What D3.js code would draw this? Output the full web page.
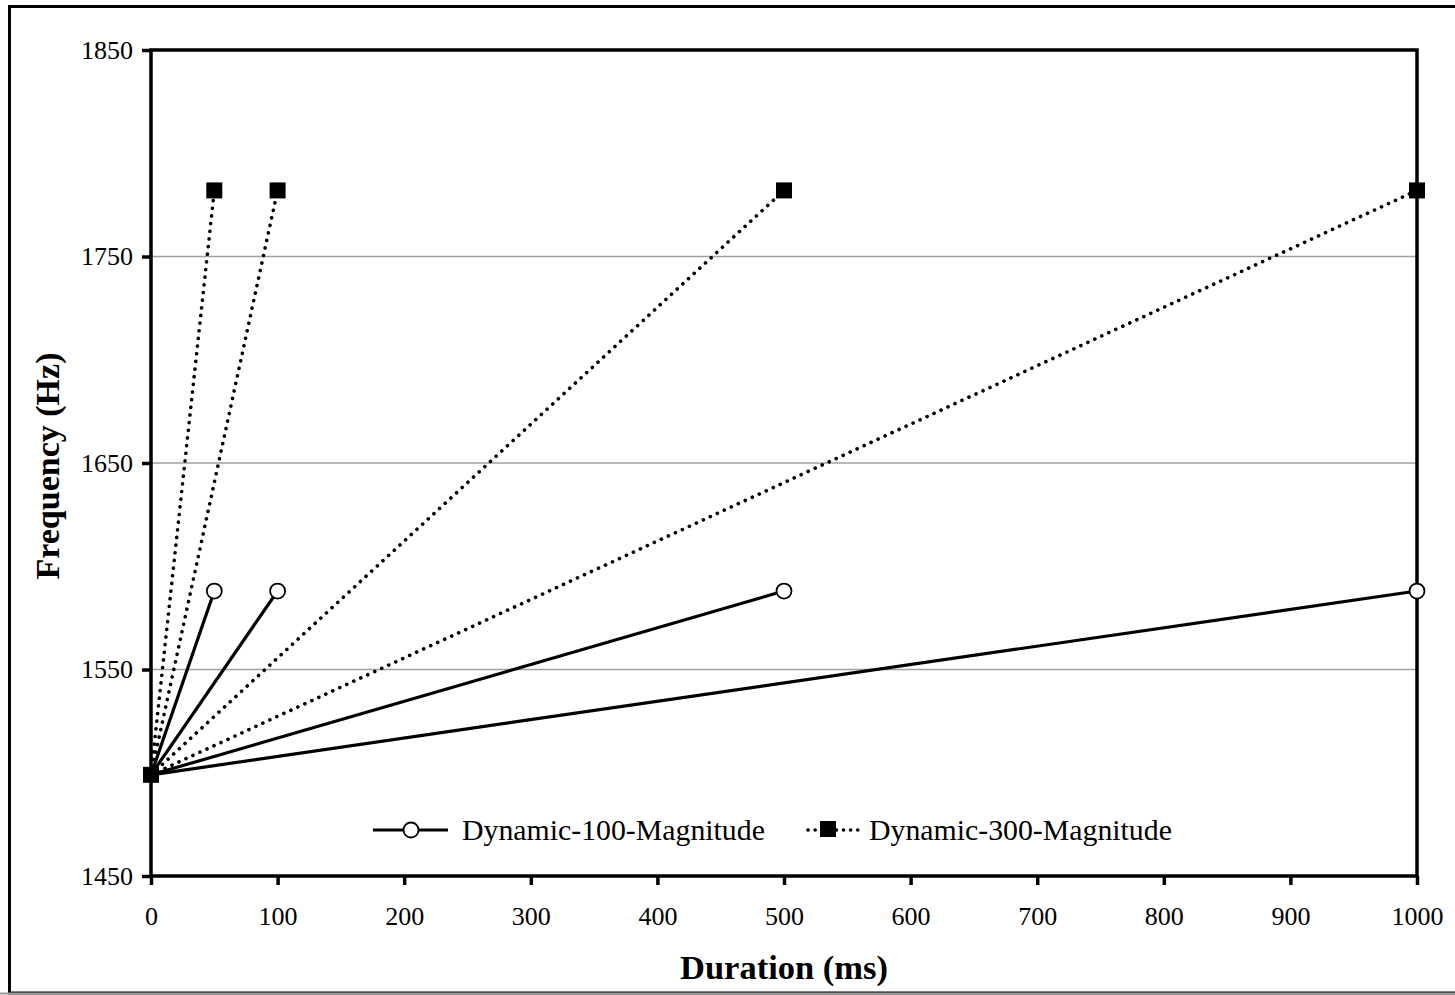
<!DOCTYPE html>
<html><head><meta charset="utf-8">
<script src="https://cdn.jsdelivr.net/npm/d3@7"></script>
<style>body{margin:0;background:#fff}svg{display:block}text{font-family:"Liberation Serif","Times New Roman",serif}</style>
</head><body>
<svg id="c" width="1455" height="995"></svg>
<script>
const durations = [50, 100, 500, 1000];
const startFreq = 1499;
const end100 = 1588;
const end300 = 1782;
const xTicks = [0,100,200,300,400,500,600,700,800,900,1000];
const yTicks = [1450,1550,1650,1750,1850];
const gridTicks = [1550,1650,1750];
const seriesNames = ["Dynamic-100-Magnitude","Dynamic-300-Magnitude"];

const svg = d3.select("#c");
const L=151,R=1417,T=50,B=876;
const x = d3.scaleLinear().domain([0,1000]).range([L,R]);
const y = d3.scaleLinear().domain([1450,1850]).range([B,T]);

// outer border
svg.append("rect").attr("x",9.5).attr("y",6.5).attr("width",1460).attr("height",986.5)
  .attr("fill","none").attr("stroke","#000").attr("stroke-width",3);
svg.append("line").attr("x1",0).attr("x2",1455).attr("y1",993.5).attr("y2",993.5).attr("stroke","#999").attr("stroke-width",2);

// gridlines
svg.selectAll(".grid").data(gridTicks).enter().append("line")
  .attr("x1",L).attr("x2",R).attr("y1",d=>y(d)).attr("y2",d=>y(d))
  .attr("stroke","#a0a0a0").attr("stroke-width",1.3);

// series
const s300 = durations.map(d=>[[0,startFreq],[d,end300]]);
const s100 = durations.map(d=>[[0,startFreq],[d,end100]]);
const line = d3.line().x(d=>x(d[0])).y(d=>y(d[1]));
svg.selectAll(".l3").data(s300).enter().append("path").attr("d",line)
  .attr("fill","none").attr("stroke","#000").attr("stroke-width",3.6)
  .attr("stroke-linecap","round").attr("stroke-dasharray","0.1 7.6");
svg.selectAll(".l1").data(s100).enter().append("path").attr("d",line)
  .attr("fill","none").attr("stroke","#000").attr("stroke-width",3.2);

// plot frame
svg.append("rect").attr("x",L).attr("y",T).attr("width",R-L).attr("height",B-T)
  .attr("fill","none").attr("stroke","#000").attr("stroke-width",3.5);

// markers
svg.selectAll(".c").data(durations).enter().append("circle")
  .attr("cx",d=>x(d)).attr("cy",y(end100)).attr("r",7.5)
  .attr("fill","#fff").attr("stroke","#000").attr("stroke-width",1.8);
svg.selectAll(".sq").data(durations).enter().append("rect")
  .attr("x",d=>x(d)-8).attr("y",y(end300)-8).attr("width",16).attr("height",16).attr("fill","#000");
svg.append("rect").attr("x",x(0)-8).attr("y",y(startFreq)-8).attr("width",16).attr("height",16).attr("fill","#000");

// axes
const xa = svg.append("g").attr("transform",`translate(0,${B})`)
  .call(d3.axisBottom(x).tickValues(xTicks).tickSize(9).tickPadding(22).tickFormat(d3.format("d")));
const ya = svg.append("g").attr("transform",`translate(${L},0)`)
  .call(d3.axisLeft(y).tickValues(yTicks).tickSize(9).tickPadding(9).tickFormat(d3.format("d")));
[xa,ya].forEach(a=>{
  a.attr("font-family",null).attr("font-size",null);
  a.select(".domain").remove();
  a.selectAll(".tick line").attr("stroke","#000").attr("stroke-width",3.5);
  a.selectAll("text").attr("font-size",26).attr("fill","#000").attr("font-family","Liberation Serif, serif");
});

// titles
svg.append("text").attr("x",(L+R)/2).attr("y",979).attr("text-anchor","middle")
  .attr("font-size",34.5).attr("font-weight","bold").text("Duration (ms)");
svg.append("text").attr("transform",`translate(59,${(T+B)/2 + 3}) rotate(-90)`).attr("text-anchor","middle")
  .attr("font-size",34).attr("font-weight","bold").text("Frequency (Hz)");

// legend
const lg = svg.append("g");
lg.append("line").attr("x1",373).attr("x2",448).attr("y1",830).attr("y2",830).attr("stroke","#000").attr("stroke-width",3.2);
lg.append("circle").attr("cx",411).attr("cy",830).attr("r",7.5).attr("fill","#fff").attr("stroke","#000").attr("stroke-width",1.8);
lg.append("text").attr("x",462).attr("y",840).attr("font-size",29.8).text(seriesNames[0]);
lg.append("line").attr("x1",808).attr("x2",860).attr("y1",830).attr("y2",830).attr("stroke","#000")
  .attr("stroke-width",3.6).attr("stroke-linecap","round").attr("stroke-dasharray","0.1 7");
lg.append("rect").attr("x",820).attr("y",821).attr("width",16).attr("height",16).attr("fill","#000");
lg.append("text").attr("x",869).attr("y",840).attr("font-size",29.8).text(seriesNames[1]);
</script>
</body></html>
